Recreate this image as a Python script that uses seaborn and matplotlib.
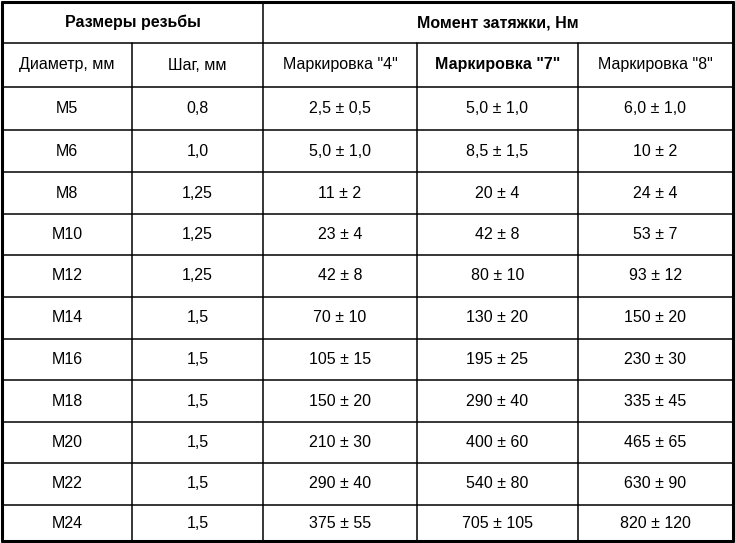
import matplotlib
matplotlib.use("Agg")
import matplotlib.pyplot as plt
import seaborn as sns
import numpy as np

sns.set_theme(style="white")
plt.rcParams['font.family'] = ['Liberation Sans', 'DejaVu Sans']

group_headers = ["Размеры резьбы", "Момент затяжки, Нм"]
col_headers = ["Диаметр, мм", "Шаг, мм", "Маркировка \"4\"", "Маркировка \"7\"", "Маркировка \"8\""]
diameters = ["M5", "M6", "M8", "M10", "M12", "M14", "M16", "M18", "M20", "M22", "M24"]
pitches = ["0,8", "1,0", "1,25", "1,25", "1,25", "1,5", "1,5", "1,5", "1,5", "1,5", "1,5"]
mark4 = ["2,5 ± 0,5", "5,0 ± 1,0", "11 ± 2", "23 ± 4", "42 ± 8", "70 ± 10", "105 ± 15",
         "150 ± 20", "210 ± 30", "290 ± 40", "375 ± 55"]
mark7 = ["5,0 ± 1,0", "8,5 ± 1,5", "20 ± 4", "42 ± 8", "80 ± 10", "130 ± 20", "195 ± 25",
         "290 ± 40", "400 ± 60", "540 ± 80", "705 ± 105"]
mark8 = ["6,0 ± 1,0", "10 ± 2", "24 ± 4", "53 ± 7", "93 ± 12", "150 ± 20", "230 ± 30",
         "335 ± 45", "465 ± 65", "630 ± 90", "820 ± 120"]

fig = plt.figure(figsize=(7.35, 5.43), dpi=100)
ax = fig.add_axes([0, 0, 1, 1])
W, H = 735, 543
ax.set_xlim(0, W)
ax.set_ylim(H, 0)
ax.axis("off")

xb = [2, 132, 263, 417, 578, 733]
yb = [2, 43, 87, 130, 172, 214, 255, 297, 339, 380, 422, 463, 505, 541]

# grid lines
for i, y in enumerate(yb):
    lw = 2.2 if i in (0, len(yb) - 1) else 1.1
    if i == 1:
        ax.plot([xb[0], xb[-1]], [y, y], color="black", lw=lw)
    else:
        ax.plot([xb[0], xb[-1]], [y, y], color="black", lw=lw)
for j, x in enumerate(xb):
    lw = 2.2 if j in (0, len(xb) - 1) else 1.1
    if j in (1, 3, 4):
        ax.plot([x, x], [yb[1], yb[-1]], color="black", lw=lw)
    else:
        ax.plot([x, x], [yb[0], yb[-1]], color="black", lw=lw)

fs = 11.5
ax.text((xb[0] + xb[2]) / 2, (yb[0] + yb[1]) / 2, group_headers[0], ha="center", va="center",
        fontsize=fs, fontweight="bold", color="black")
ax.text((xb[2] + xb[5]) / 2, (yb[0] + yb[1]) / 2, group_headers[1], ha="center", va="center",
        fontsize=fs, fontweight="bold", color="black")
for j, h in enumerate(col_headers):
    ax.text((xb[j] + xb[j + 1]) / 2, (yb[1] + yb[2]) / 2, h, ha="center", va="center",
            fontsize=fs, color="black", fontweight="bold" if j == 3 else "normal")

cols = [diameters, pitches, mark4, mark7, mark8]
for j, col in enumerate(cols):
    for i, v in enumerate(col):
        ax.text((xb[j] + xb[j + 1]) / 2, (yb[i + 2] + yb[i + 3]) / 2, v, ha="center",
                va="center", fontsize=fs, color="black")

fig.savefig("out.png", dpi=100, facecolor="white")
